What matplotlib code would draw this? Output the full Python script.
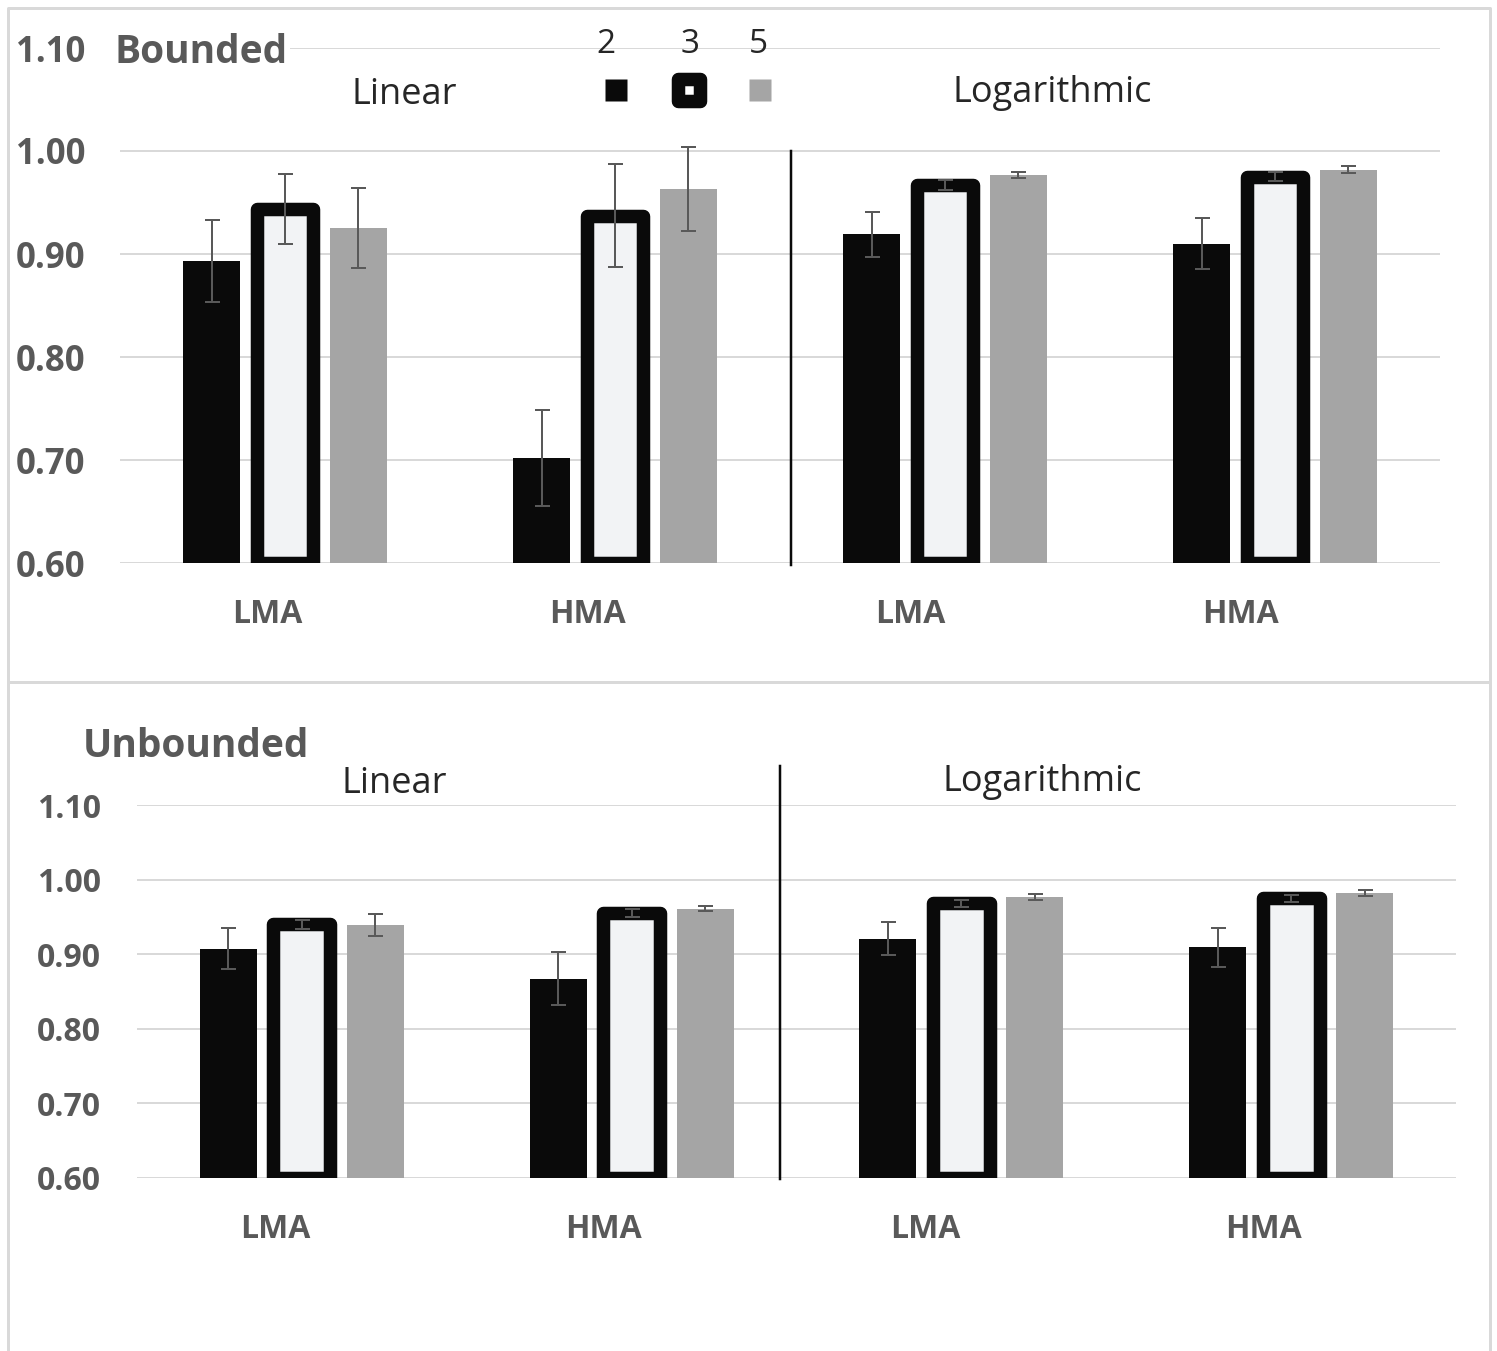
import numpy as np
import matplotlib.pyplot as plt
from matplotlib.markers import MarkerStyle

plt.rcParams['font.family'] = ['Open Sans', 'DejaVu Sans']

# categories: Linear LMA, Linear HMA, Logarithmic LMA, Logarithmic HMA
groups = ['LMA', 'HMA', 'LMA', 'HMA']
series = ['2', '3', '5']

# Bounded panel
b_two = [0.893, 0.702, 0.919, 0.910]
b_two_err = [0.040, 0.047, 0.022, 0.025]
b_three = [0.944, 0.937, 0.967, 0.975]
b_three_err = [0.034, 0.050, 0.0045, 0.0045]
b_five = [0.925, 0.963, 0.977, 0.982]
b_five_err = [0.039, 0.041, 0.003, 0.003]

# Unbounded panel
u_two = [0.907, 0.867, 0.921, 0.909]
u_two_err = [0.0275, 0.0355, 0.022, 0.0255]
u_three = [0.940, 0.955, 0.968, 0.975]
u_three_err = [0.006, 0.005, 0.005, 0.005]
u_five = [0.939, 0.961, 0.977, 0.982]
u_five_err = [0.015, 0.003, 0.004, 0.0035]

yticks = [0.60, 0.70, 0.80, 0.90, 1.00, 1.10]

BLACK = '#0a0a0a'
LIGHT = '#f2f3f5'
GRAY = '#a5a5a5'
TXT = '#595959'
DARK = '#262626'
PX = 72 / 100  # points per pixel

W, H = 1497, 1351
fig = plt.figure(figsize=(W / 100, H / 100), dpi=100)


def px_axes(left, top, right, bottom):
    return fig.add_axes([left / W, 1 - bottom / H, (right - left) / W, (bottom - top) / H])


def draw_panel(ax, two, two_err, three, three_err, five, five_err, tick_size, tick_pad,
               sep_x, sep_top, label_shift):
    x = np.arange(len(groups))
    off, w = 0.2227, 0.1727
    ekw = dict(ecolor=TXT, elinewidth=2 * PX, capsize=7.5 * PX, capthick=2 * PX, zorder=4)
    base = 0.60
    ax.bar(x - off, np.array(two) - base, w, bottom=base, color=BLACK,
           yerr=two_err, error_kw=ekw, zorder=2)
    ax.bar(x, np.array(three) - base, w, bottom=base, color=LIGHT, edgecolor=BLACK,
           linewidth=13.5 * PX, joinstyle='round', yerr=three_err, error_kw=ekw, zorder=2)
    ax.bar(x + off, np.array(five) - base, w, bottom=base, color=GRAY,
           yerr=five_err, error_kw=ekw, zorder=2)

    ax.set_xlim(-0.5, len(groups) - 0.5)
    ax.set_ylim(0.60, 1.10)
    ax.set_yticks(yticks)
    ax.set_yticklabels(['%.2f' % v for v in yticks], fontsize=tick_size,
                       fontweight='bold', color=TXT)
    ax.tick_params(axis='y', length=0, pad=tick_pad)
    ax.set_xticks([])
    ax.yaxis.grid(True, color='#d9d9d9', linewidth=2 * PX)
    ax.set_axisbelow(True)
    for s in ax.spines.values():
        s.set_visible(False)

    for i, g in enumerate(groups):
        ax.annotate(g, xy=(i + label_shift[i], 0), xycoords=('data', 'axes fraction'),
                    xytext=(0, -60 * PX), textcoords='offset points',
                    ha='center', va='baseline', fontsize=23, fontweight='bold', color=TXT)

    ax.plot([sep_x, sep_x], [0.598, sep_top], color=BLACK, lw=2.5 * PX, clip_on=False, zorder=3)


ax1 = px_axes(120, 48, 1440, 563)
draw_panel(ax1, b_two, b_two_err, b_three, b_three_err, b_five, b_five_err, 25, 35 * PX,
           1.533, 1.00, [-0.055, -0.082, -0.106, -0.106])

ax2 = px_axes(137, 805, 1456, 1178)
draw_panel(ax2, u_two, u_two_err, u_three, u_three_err, u_five, u_five_err, 23, 36 * PX,
           1.45, 1.152, [-0.082, -0.085, -0.109, -0.085])

# overlay in pixel coordinates for frame, titles and legend
ov = fig.add_axes([0, 0, 1, 1], zorder=10)
ov.set_xlim(0, W)
ov.set_ylim(H, 0)
ov.axis('off')
ov.patch.set_visible(False)

frame = '#d9d9d9'
ov.plot([8, 8, 1490, 1490], [H, 8, 8, H], color=frame, lw=3 * PX)
ov.plot([8, 1490], [682, 682], color=frame, lw=3 * PX)

ov.text(115, 63, 'Bounded', fontsize=28, fontweight='bold', color=TXT, ha='left', va='baseline',
        bbox=dict(facecolor='white', edgecolor='none', pad=1))
ov.text(83, 757, 'Unbounded', fontsize=28, fontweight='bold', color=TXT, ha='left', va='baseline')

ov.text(404, 104, 'Linear', fontsize=26, color=DARK, ha='center', va='baseline')
ov.text(1052, 102, 'Logarithmic', fontsize=26, color=DARK, ha='center', va='baseline')
ov.text(394, 793, 'Linear', fontsize=26, color=DARK, ha='center', va='baseline')
ov.text(1042, 791, 'Logarithmic', fontsize=26, color=DARK, ha='center', va='baseline')

# legend
for lab, tx in zip(series, [606, 690, 758]):
    ov.text(tx, 53, lab, fontsize=24, color=DARK, ha='center', va='baseline')
ov.plot(616, 90, marker='s', ms=22 * PX, mfc=BLACK, mec='none')
ov.plot(689, 90, marker=MarkerStyle('s', joinstyle='round'), ms=21.5 * PX, mfc='white',
        mec=BLACK, mew=13.5 * PX)
ov.plot(760, 90, marker='s', ms=22 * PX, mfc=GRAY, mec='none')

fig.savefig('out.png', dpi=100)
